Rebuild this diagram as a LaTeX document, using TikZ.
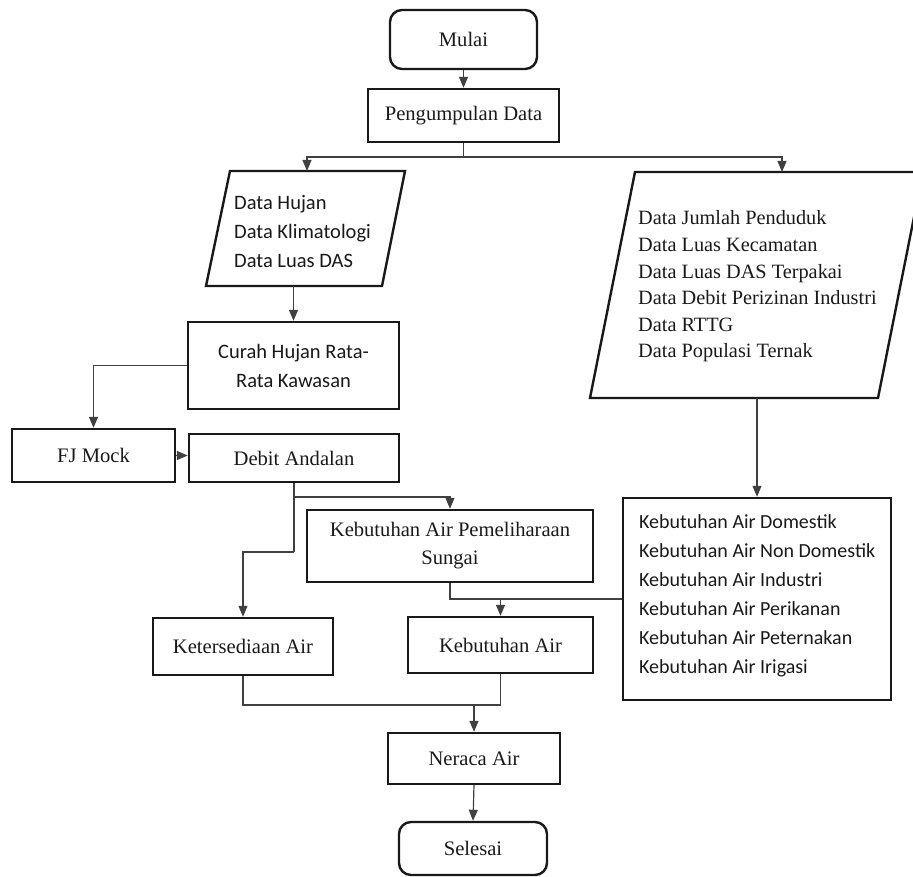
\documentclass[tikz,border=0pt]{standalone}
\usepackage{fontspec}
\setmainfont{Liberation Serif}
\newfontfamily\calib{Carlito}
\usetikzlibrary{arrows.meta}
\begin{document}
\begin{tikzpicture}[x=1pt,y=-1pt,
  box/.style={draw=black!90, line width=2.4pt, rectangle, inner sep=0pt,
    font=\fontsize{20.6}{30}\selectfont, text=black!90, align=center},
  term/.style={box, rounded corners=12pt},
  para/.style={draw=black!90, line width=2.4pt, line join=miter},
  sanstext/.style={font=\calib\fontsize{20.5}{29}\selectfont, text=black!90, align=left, inner sep=0pt, anchor=west},
  seriftext/.style={font=\fontsize{20.3}{26.6}\selectfont, text=black!90, align=left, inner sep=0pt, anchor=west},
  conn/.style={draw=black!75, line width=1.2pt},
  arr/.style={conn, -{Triangle[length=11pt,width=9pt]}},
]
\useasboundingbox (0,0) rectangle (913,877);

% terminals and boxes
\node[term, minimum width=147pt, minimum height=59pt] (mulai) at (463.5,39.5) {Mulai};
\node[box, minimum width=191pt, minimum height=53pt] (peng) at (463.5,115.5) {Pengumpulan Data};

% left parallelogram
\draw[para] (230,171) -- (405,171) -- (382,286) -- (206,286) -- cycle;
\coordinate (lpTop) at (307,171);
\coordinate (lpBot) at (293.5,286);
\node[sanstext] (lptext) at (234,232) {Data Hujan\\Data Klimatologi\\Data Luas DAS};

% right parallelogram
\draw[para] (635,172) -- (923,172) -- (878,398) -- (590,398) -- cycle;
\coordinate (rpTop) at (782,172);
\coordinate (rpBot) at (757,398);
\node[seriftext] (rptext) at (638,286.5) {Data Jumlah Penduduk\\Data Luas Kecamatan\\Data Luas DAS Terpakai\\Data Debit Perizinan Industri\\Data RTTG\\Data Populasi Ternak};

\node[box, minimum width=211pt, minimum height=87pt, font=\calib\fontsize{20.5}{29}\selectfont] (curah) at (293.5,365.5) {Curah Hujan Rata-\\Rata Kawasan};
\node[box, minimum width=163pt, minimum height=53pt] (fj) at (93.5,455.5) {FJ Mock};
\node[box, minimum width=210pt, minimum height=48pt] (debit) at (294,458) {Debit Andalan};
\node[box, minimum width=286pt, minimum height=72pt] (pem) at (450,546) {Kebutuhan Air Pemeliharaan\\[-2pt]Sungai};
\node[box, minimum width=268pt, minimum height=202pt] (klist) at (757,599) {};
\node[sanstext, font=\calib\fontsize{20}{29}\selectfont] (klisttext) at (639,595.5) {Kebutuhan Air Domestik\\Kebutuhan Air Non Domestik\\Kebutuhan Air Industri\\Kebutuhan Air Perikanan\\Kebutuhan Air Peternakan\\Kebutuhan Air Irigasi};
\node[box, minimum width=180pt, minimum height=57pt] (ket) at (243,646.5) {Ketersediaan Air};
\node[box, minimum width=185pt, minimum height=56pt] (kair) at (500.5,645) {Kebutuhan Air};
\node[box, minimum width=172pt, minimum height=51pt] (ner) at (474,758.5) {Neraca Air};
\node[term, minimum width=148pt, minimum height=53pt] (sel) at (473,848.5) {Selesai};

% connectors
\draw[arr] (mulai.south) -- (peng.north);
\coordinate (j1) at (463.5,157);
\draw[conn] (peng.south) -- (j1);
\draw[arr] (j1) -| (lpTop);
\draw[arr] (j1) -| (rpTop);
\draw[arr] (lpBot) -- (curah.north);
\draw[arr] (curah.west) -| (fj.north);
\draw[arr] (fj.east) -- (fj.east -| debit.west);
\coordinate (d1) at (294,497);
\coordinate (d2) at (294,552);
\draw[conn] (debit.south) -- (d2);
\draw[arr] (d1) -| (pem.north);
\draw[arr] (d2) -| (ket.north);
\draw[arr] (rpBot) -- (klist.north);
\draw[conn] (pem.south) |- (klist.west);
\draw[arr] (kair.north |- klist.west) -- (kair.north);
\coordinate (jn) at (474,705);
\draw[conn] (ket.south) |- (jn) -| (kair.south);
\draw[arr] (jn) -- (ner.north);
\draw[arr] (ner.south) -- (sel.north);
\end{tikzpicture}
\end{document}
